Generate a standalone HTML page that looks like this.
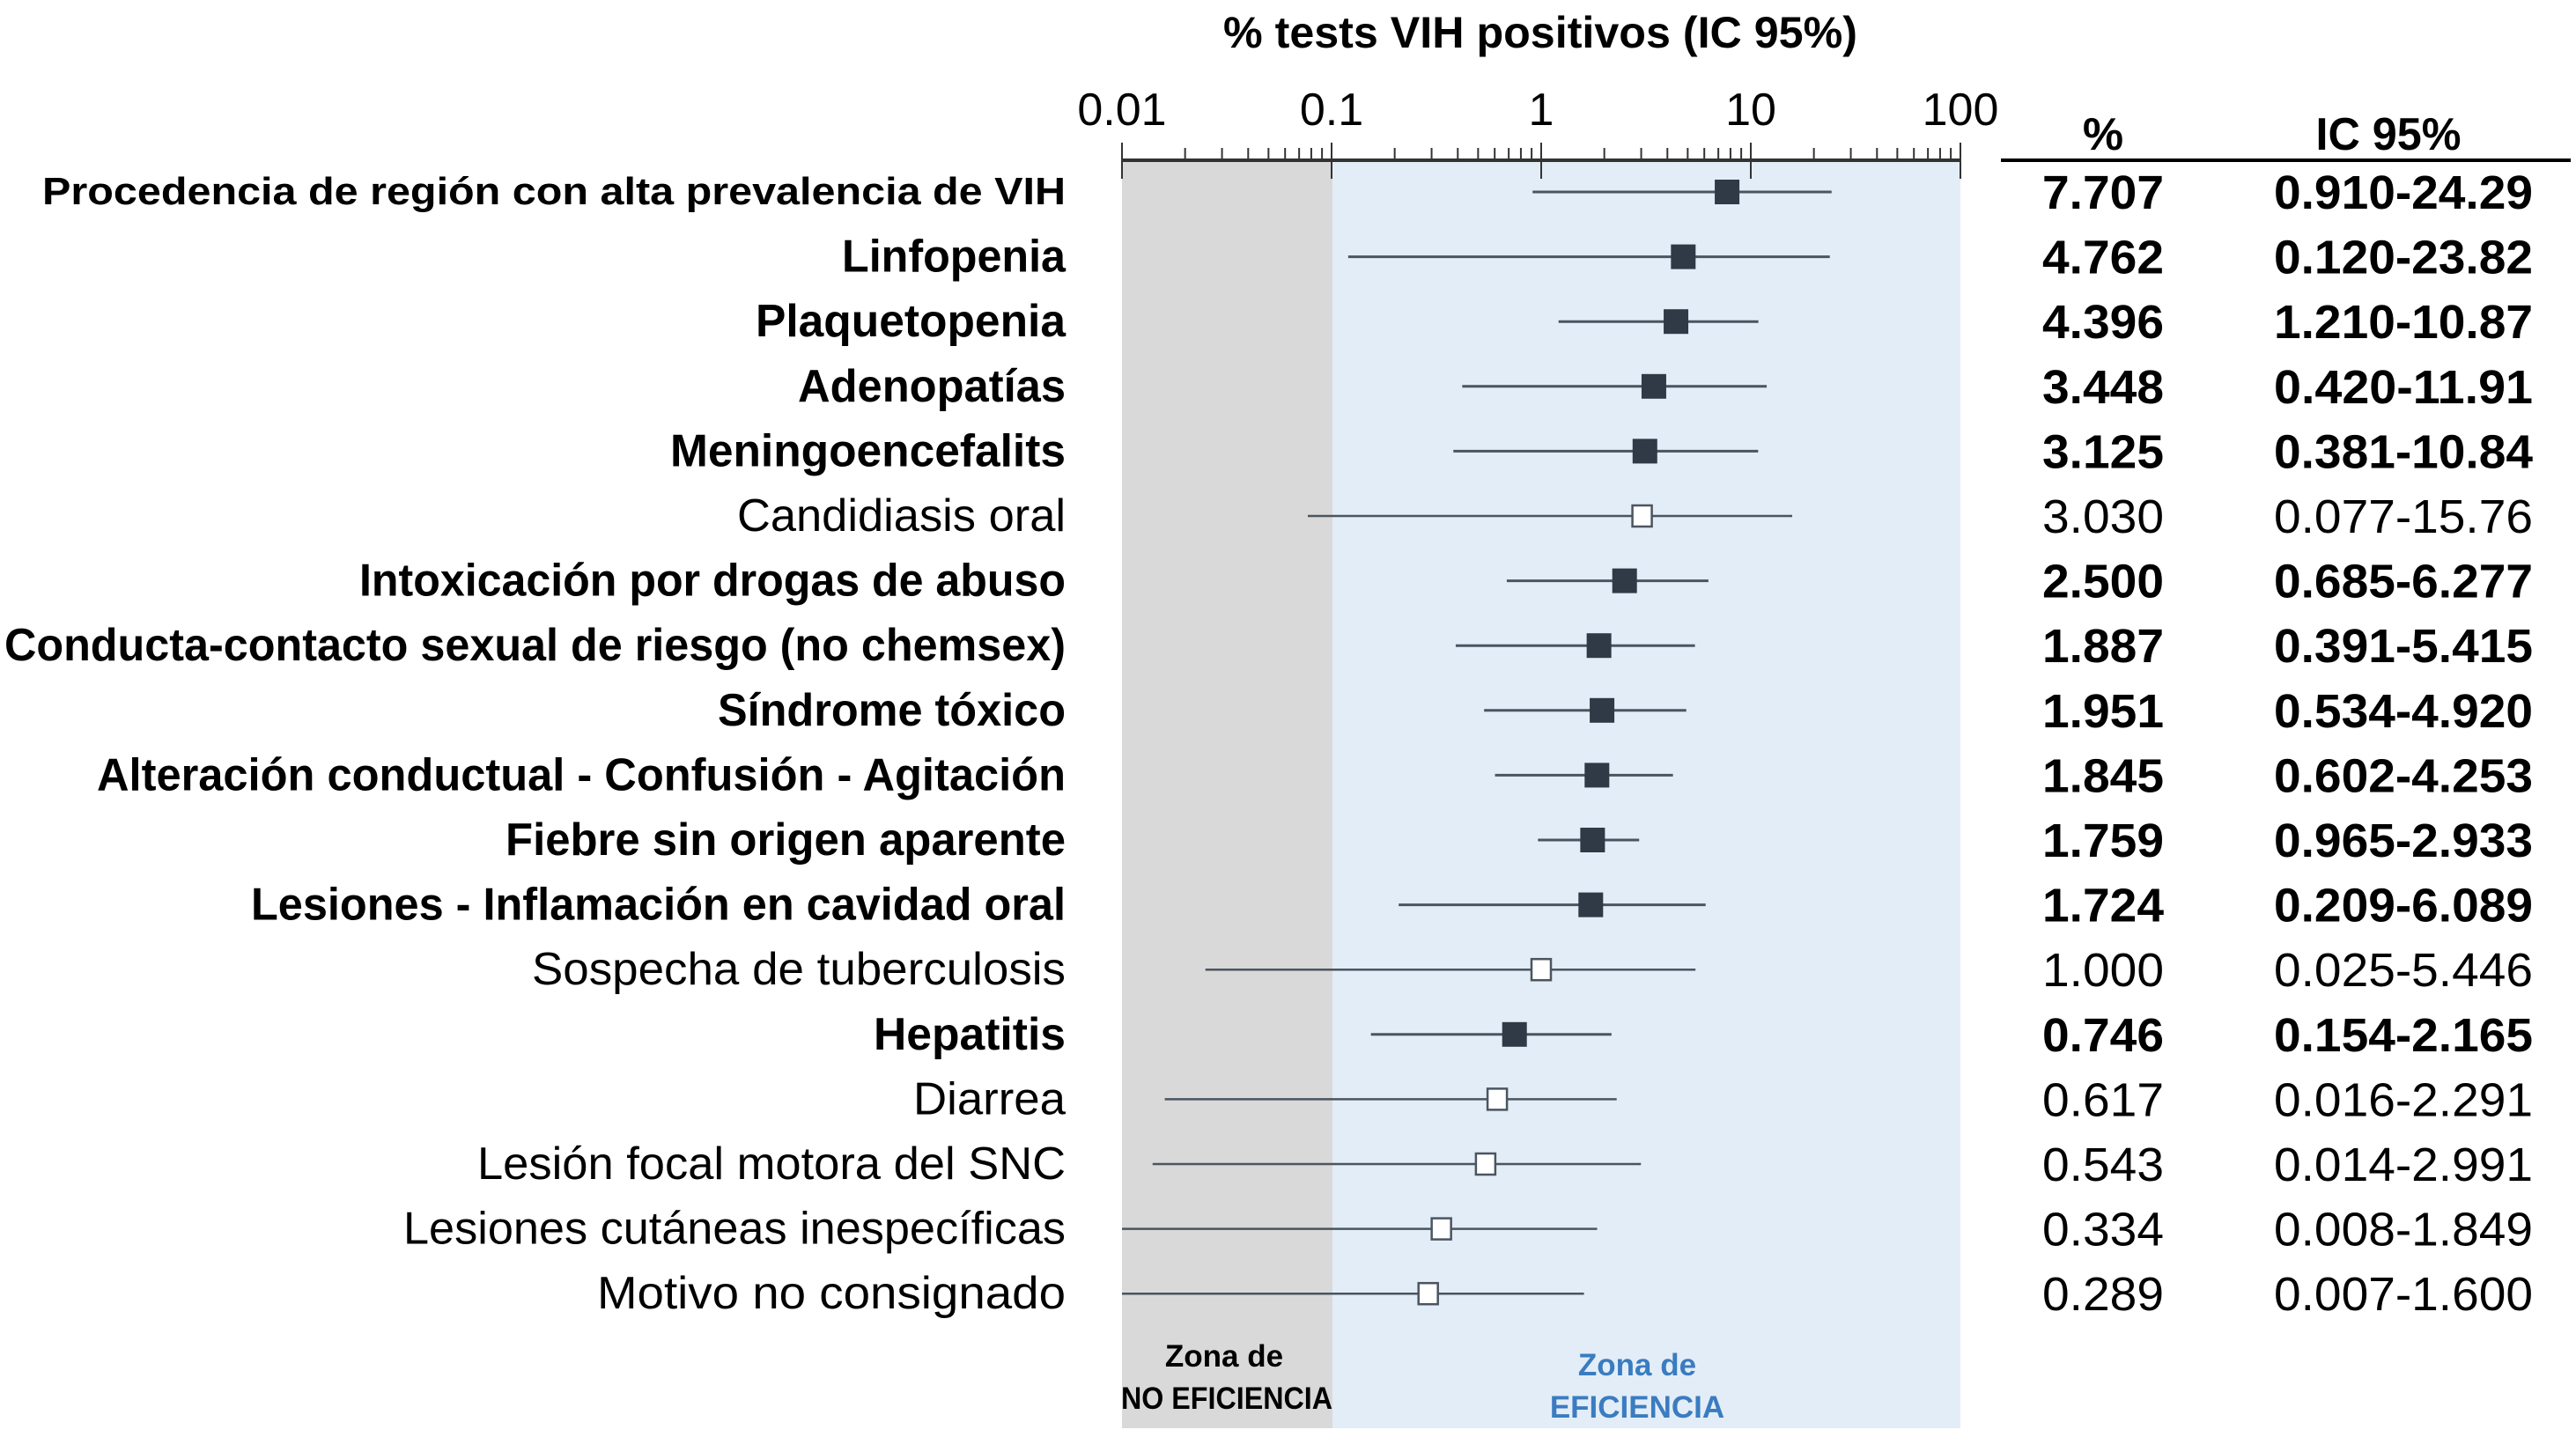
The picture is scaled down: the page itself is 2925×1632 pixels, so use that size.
<!DOCTYPE html>
<html><head><meta charset="utf-8"><style>
html,body{margin:0;padding:0;background:#fff;}
svg{display:block;font-family:"Liberation Sans",sans-serif;}
</style></head><body>
<svg id="chart" width="2925" height="1632" viewBox="0 0 2925 1632" xmlns="http://www.w3.org/2000/svg">
<rect x="1274" y="182" width="239" height="1440" fill="#d9d9d9"/>
<rect x="1513" y="182" width="713" height="1440" fill="#e3edf7"/>
<text x="1749" y="54" text-anchor="middle" font-size="50" font-weight="bold" textLength="720" lengthAdjust="spacingAndGlyphs">% tests VIH positivos (IC 95%)</text>
<g id="axis"></g>
<g id="rows"></g>
<text x="2388" y="170" text-anchor="middle" font-size="52" font-weight="bold">%</text>
<text x="2712" y="170" text-anchor="middle" font-size="52" font-weight="bold" textLength="165" lengthAdjust="spacingAndGlyphs">IC 95%</text>
<line x1="2272" y1="182" x2="2919" y2="182" stroke="#000" stroke-width="4"/>
<text x="1390" y="1552" text-anchor="middle" font-size="35" font-weight="bold">Zona de</text>
<text x="1393" y="1600" text-anchor="middle" font-size="35" font-weight="bold" textLength="240" lengthAdjust="spacingAndGlyphs">NO EFICIENCIA</text>
<text x="1859" y="1562" text-anchor="middle" font-size="35" font-weight="bold" fill="#3a7cc0">Zona de</text>
<text x="1859" y="1610" text-anchor="middle" font-size="35" font-weight="bold" fill="#3a7cc0">EFICIENCIA</text>
</svg>
<script>
const labels=["Procedencia de región con alta prevalencia de VIH","Linfopenia","Plaquetopenia","Adenopatías","Meningoencefalits","Candidiasis oral","Intoxicación por drogas de abuso","Conducta-contacto sexual de riesgo (no chemsex)","Síndrome tóxico","Alteración conductual - Confusión - Agitación","Fiebre sin origen aparente","Lesiones - Inflamación en cavidad oral","Sospecha de tuberculosis","Hepatitis","Diarrea","Lesión focal motora del SNC","Lesiones cutáneas inespecíficas","Motivo no consignado"];
const estimates=[7.707,4.762,4.396,3.448,3.125,3.030,2.500,1.887,1.951,1.845,1.759,1.724,1.000,0.746,0.617,0.543,0.334,0.289];
const lowers=[0.910,0.120,1.210,0.420,0.381,0.077,0.685,0.391,0.534,0.602,0.965,0.209,0.025,0.154,0.016,0.014,0.008,0.007];
const uppers=[24.29,23.82,10.87,11.91,10.84,15.76,6.277,5.415,4.920,4.253,2.933,6.089,5.446,2.165,2.291,2.991,1.849,1.600];
const pctText=["7.707","4.762","4.396","3.448","3.125","3.030","2.500","1.887","1.951","1.845","1.759","1.724","1.000","0.746","0.617","0.543","0.334","0.289"];
const ciText=["0.910-24.29","0.120-23.82","1.210-10.87","0.420-11.91","0.381-10.84","0.077-15.76","0.685-6.277","0.391-5.415","0.534-4.920","0.602-4.253","0.965-2.933","0.209-6.089","0.025-5.446","0.154-2.165","0.016-2.291","0.014-2.991","0.008-1.849","0.007-1.600"];
const significant=[1,1,1,1,1,0,1,1,1,1,1,1,0,1,0,0,0,0];
const tickValues=[0.01,0.1,1,10,100];
const tickLabels=["0.01","0.1","1","10","100"];
const labelWidths=[1162,254,352,304,449,373,802,1205,395,1100,636,925,606,218,173,668,752,532];

const NS="http://www.w3.org/2000/svg";
const X0=1274,DEC=238,AXY=182;
function xs(v){v=Math.max(v,0.01);v=Math.min(v,100);return X0+(Math.log10(v)+2)*DEC;}
function ys(i){return 218+i*73.6;}
function mk(tag,attrs,parent){const e=document.createElementNS(NS,tag);for(const k in attrs)e.setAttribute(k,attrs[k]);parent.appendChild(e);return e;}
const ax=document.getElementById('axis');
let l=mk('line',{x1:X0,y1:AXY,x2:xs(100),y2:AXY,stroke:'#333',"stroke-width":4},ax);


tickValues.forEach((v,i)=>{
  const x=xs(v);
  const t=mk('line',{x1:x,y1:162,x2:x,y2:203,stroke:'#333',"stroke-width":2},ax);
  
  
  const tx=mk('text',{x:x,y:142,"text-anchor":"middle","font-size":52},ax);
  tx.textContent=tickLabels[i];
  
  
  if(i<tickValues.length-1){for(let m=2;m<=9;m++){const mx=xs(v*m);
    const mt=mk('line',{x1:mx,y1:168,x2:mx,y2:182,stroke:'#333',"stroke-width":2},ax);
    
    }}
});
const rows=document.getElementById('rows');
labels.forEach((lab,i)=>{
  const y=ys(i),b=significant[i];
  const g=mk('g',{},rows);
  
  
  const first=i===0;
  const t=mk('text',{x:1210,y:y+(first?14:17),"text-anchor":"end","font-size":first?44:52,"font-weight":b?"bold":"normal",textLength:labelWidths[i],lengthAdjust:"spacingAndGlyphs"},g);
  t.textContent=lab;
  
  
  const ci=mk('line',{x1:xs(lowers[i]),y1:y,x2:xs(uppers[i]),y2:y,stroke:'#4a5560',"stroke-width":b?3:2.5},g);
  
  
  const x=xs(estimates[i]);
  const sq=b?mk('rect',{x:x-14,y:y-14,width:28,height:28,fill:'#2f3a46'},g):mk('rect',{x:x-11,y:y-12,width:22,height:24,fill:'#fff',stroke:'#4a5560',"stroke-width":2.5},g);
  
  
  const p=mk('text',{x:2388,y:y+19,"text-anchor":"middle","font-size":54,"font-weight":b?"bold":"normal",textLength:138,lengthAdjust:"spacingAndGlyphs"},g);
  p.textContent=pctText[i];
  
  
  const c=mk('text',{x:2729,y:y+19,"text-anchor":"middle","font-size":54,"font-weight":b?"bold":"normal",textLength:294,lengthAdjust:"spacingAndGlyphs"},g);
  c.textContent=ciText[i];
  
  
});
</script>
</body></html>
